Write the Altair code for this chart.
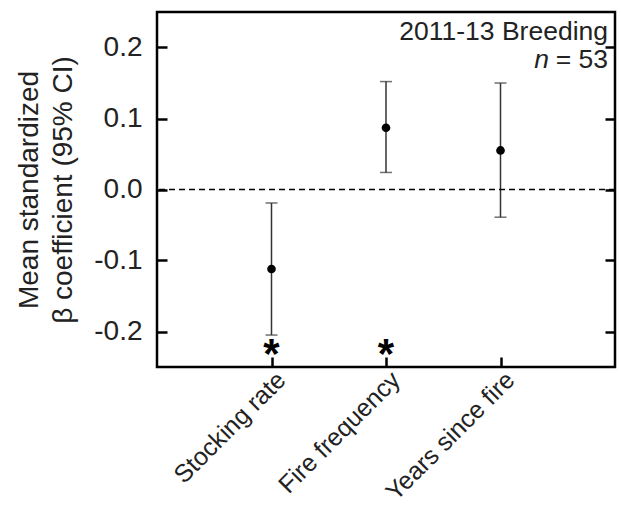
import altair as alt
import pandas as pd

# ---- data ----
categories = ["Stocking rate", "Fire frequency", "Years since fire"]
means = [-0.112, 0.087, 0.055]
lower = [-0.205, 0.024, -0.039]
upper = [-0.019, 0.152, 0.150]
significance = ["*", "*", ""]
y_ticks = [-0.2, -0.1, 0.0, 0.1, 0.2]
zero_line = [0.0]
label_line1 = "2011-13 Breeding"
n_label = "= 53"

FONT = "Liberation Sans"
TXT = "#222222"
TICK = 10

df = pd.DataFrame({"cat": categories, "mean": means, "lo": lower, "hi": upper, "sig": significance})

xenc = alt.X(
    "cat:N",
    sort=categories,
    scale=alt.Scale(type="point", padding=1),
    axis=alt.Axis(
        title=None, labelAngle=-45, labelAlign="right", labelBaseline="top",
        labelFontSize=25, labelColor=TXT, labelFont=FONT,
        tickSize=TICK, tickWidth=2.5, tickColor="black", offset=-TICK,
        domain=False, labelPadding=0, labelOffset=1,
    ),
)
yscale = alt.Scale(domain=[-0.25, 0.25], nice=False)
yaxis = alt.Axis(
    values=y_ticks,
    labelExpr="(datum.value < 0 ? '-' : '') + format(abs(datum.value), '.1f')",
    title=["Mean standardized", "\u03b2 coefficient (95% CI)"],
    titleFontSize=28, titleFont=FONT, titleColor=TXT, titleFontWeight="normal",
    titleLineHeight=34, titlePadding=16,
    labelFontSize=28, labelFont=FONT, labelColor=TXT, labelPadding=15,
    tickSize=TICK, tickWidth=2.5, tickColor="black", offset=-TICK, domain=False, grid=False,
)

base = alt.Chart(df)

bars = base.mark_rule(color="#333333", strokeWidth=1.5).encode(
    x=xenc,
    y=alt.Y("lo:Q", scale=yscale, axis=yaxis),
    y2="hi:Q",
)
cap_lo = base.mark_tick(color="#333333", thickness=1.5, size=12).encode(
    x=xenc, y=alt.Y("lo:Q", scale=yscale)
)
cap_hi = base.mark_tick(color="#333333", thickness=1.5, size=12).encode(
    x=xenc, y=alt.Y("hi:Q", scale=yscale)
)
points = base.mark_point(filled=True, color="black", size=75, opacity=1).encode(
    x=xenc, y=alt.Y("mean:Q", scale=yscale)
)
stars = base.mark_text(font=FONT, fontSize=42, fontWeight="bold", color="black",
                       baseline="alphabetic").encode(
    x=xenc, y=alt.value(356), text="sig:N"
)

left = alt.layer(bars, cap_lo, cap_hi, points, stars)

zero_df = pd.DataFrame({"z": zero_line})
zero = alt.Chart(zero_df).mark_rule(color="black", strokeWidth=1.5, strokeDash=[6, 4]).encode(
    y=alt.Y(
        "z:Q", scale=yscale,
        axis=alt.Axis(orient="right", values=y_ticks, labels=False, title=None,
                      tickSize=TICK, tickWidth=2.5, tickColor="black", offset=-TICK,
                      domain=False, grid=False),
    )
)

ann_df = pd.DataFrame({"t": [label_line1]})
ann1 = alt.Chart(ann_df).mark_text(font=FONT, fontSize=26.5, color=TXT, align="right",
                                   baseline="alphabetic").encode(
    x=alt.value(451), y=alt.value(28), text="t:N"
)
n_df = pd.DataFrame({"t": [n_label], "n": ["n"]})
ann2 = alt.Chart(n_df).mark_text(font=FONT, fontSize=26.5, color=TXT, align="right",
                                 baseline="alphabetic").encode(
    x=alt.value(451), y=alt.value(56), text="t:N"
)
ann3 = alt.Chart(n_df).mark_text(font=FONT, fontSize=26.5, color=TXT, align="right",
                                 baseline="alphabetic", fontStyle="italic").encode(
    x=alt.value(392), y=alt.value(56), text="n:N"
)

chart = alt.layer(left, zero, ann1, ann2, ann3).resolve_axis(y="independent").properties(
    width=458, height=355,
    padding={"left": 157, "top": 12, "right": 6, "bottom": 144},
    autosize="none",
    background="white",
).configure_view(stroke="black", strokeWidth=2.5)

chart.save("out.html", embed_options={"renderer": "svg", "actions": False})
